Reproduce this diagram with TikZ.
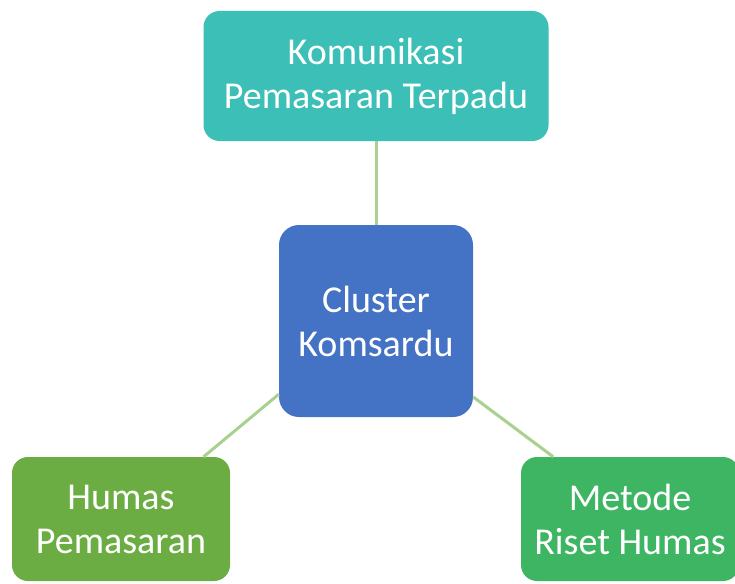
\documentclass[tikz,border=0pt]{standalone}
\usepackage{fontspec}
\setmainfont{Carlito}
\definecolor{tealbox}{HTML}{3BBFB6}
\definecolor{bluebox}{HTML}{4472C4}
\definecolor{olivebox}{HTML}{6BAD42}
\definecolor{greenbox}{HTML}{3DB562}
\definecolor{linkline}{HTML}{A9D18E}
\begin{document}
\begin{tikzpicture}[x=1pt,y=-1pt,
  topic/.style={rounded corners=16pt,align=center,text=white,inner sep=0pt,
    font=\fontsize{38}{44}\selectfont},
  link/.style={linkline,line width=3pt}]
\useasboundingbox (0,0) rectangle (735,583);

\node[topic,fill=tealbox,minimum width=345,minimum height=130] (kpt) at (376,76) {Komunikasi\\Pemasaran Terpadu};
\node[topic,fill=bluebox,minimum width=194,minimum height=192,rounded corners=20pt] (cluster) at (376,321) {Cluster\\Komsardu};
\node[topic,fill=olivebox,minimum width=218,minimum height=124] (humas) at (121,519) {Humas\\Pemasaran};
\node[topic,fill=greenbox,minimum width=218,minimum height=124] (riset) at (630,519) {Metode\\Riset Humas};

\draw[link] (kpt.south) -- (cluster.north);
\draw[link] (cluster.217) -- (humas.37);
\draw[link] (cluster.322) -- (riset.141);
\end{tikzpicture}
\end{document}
